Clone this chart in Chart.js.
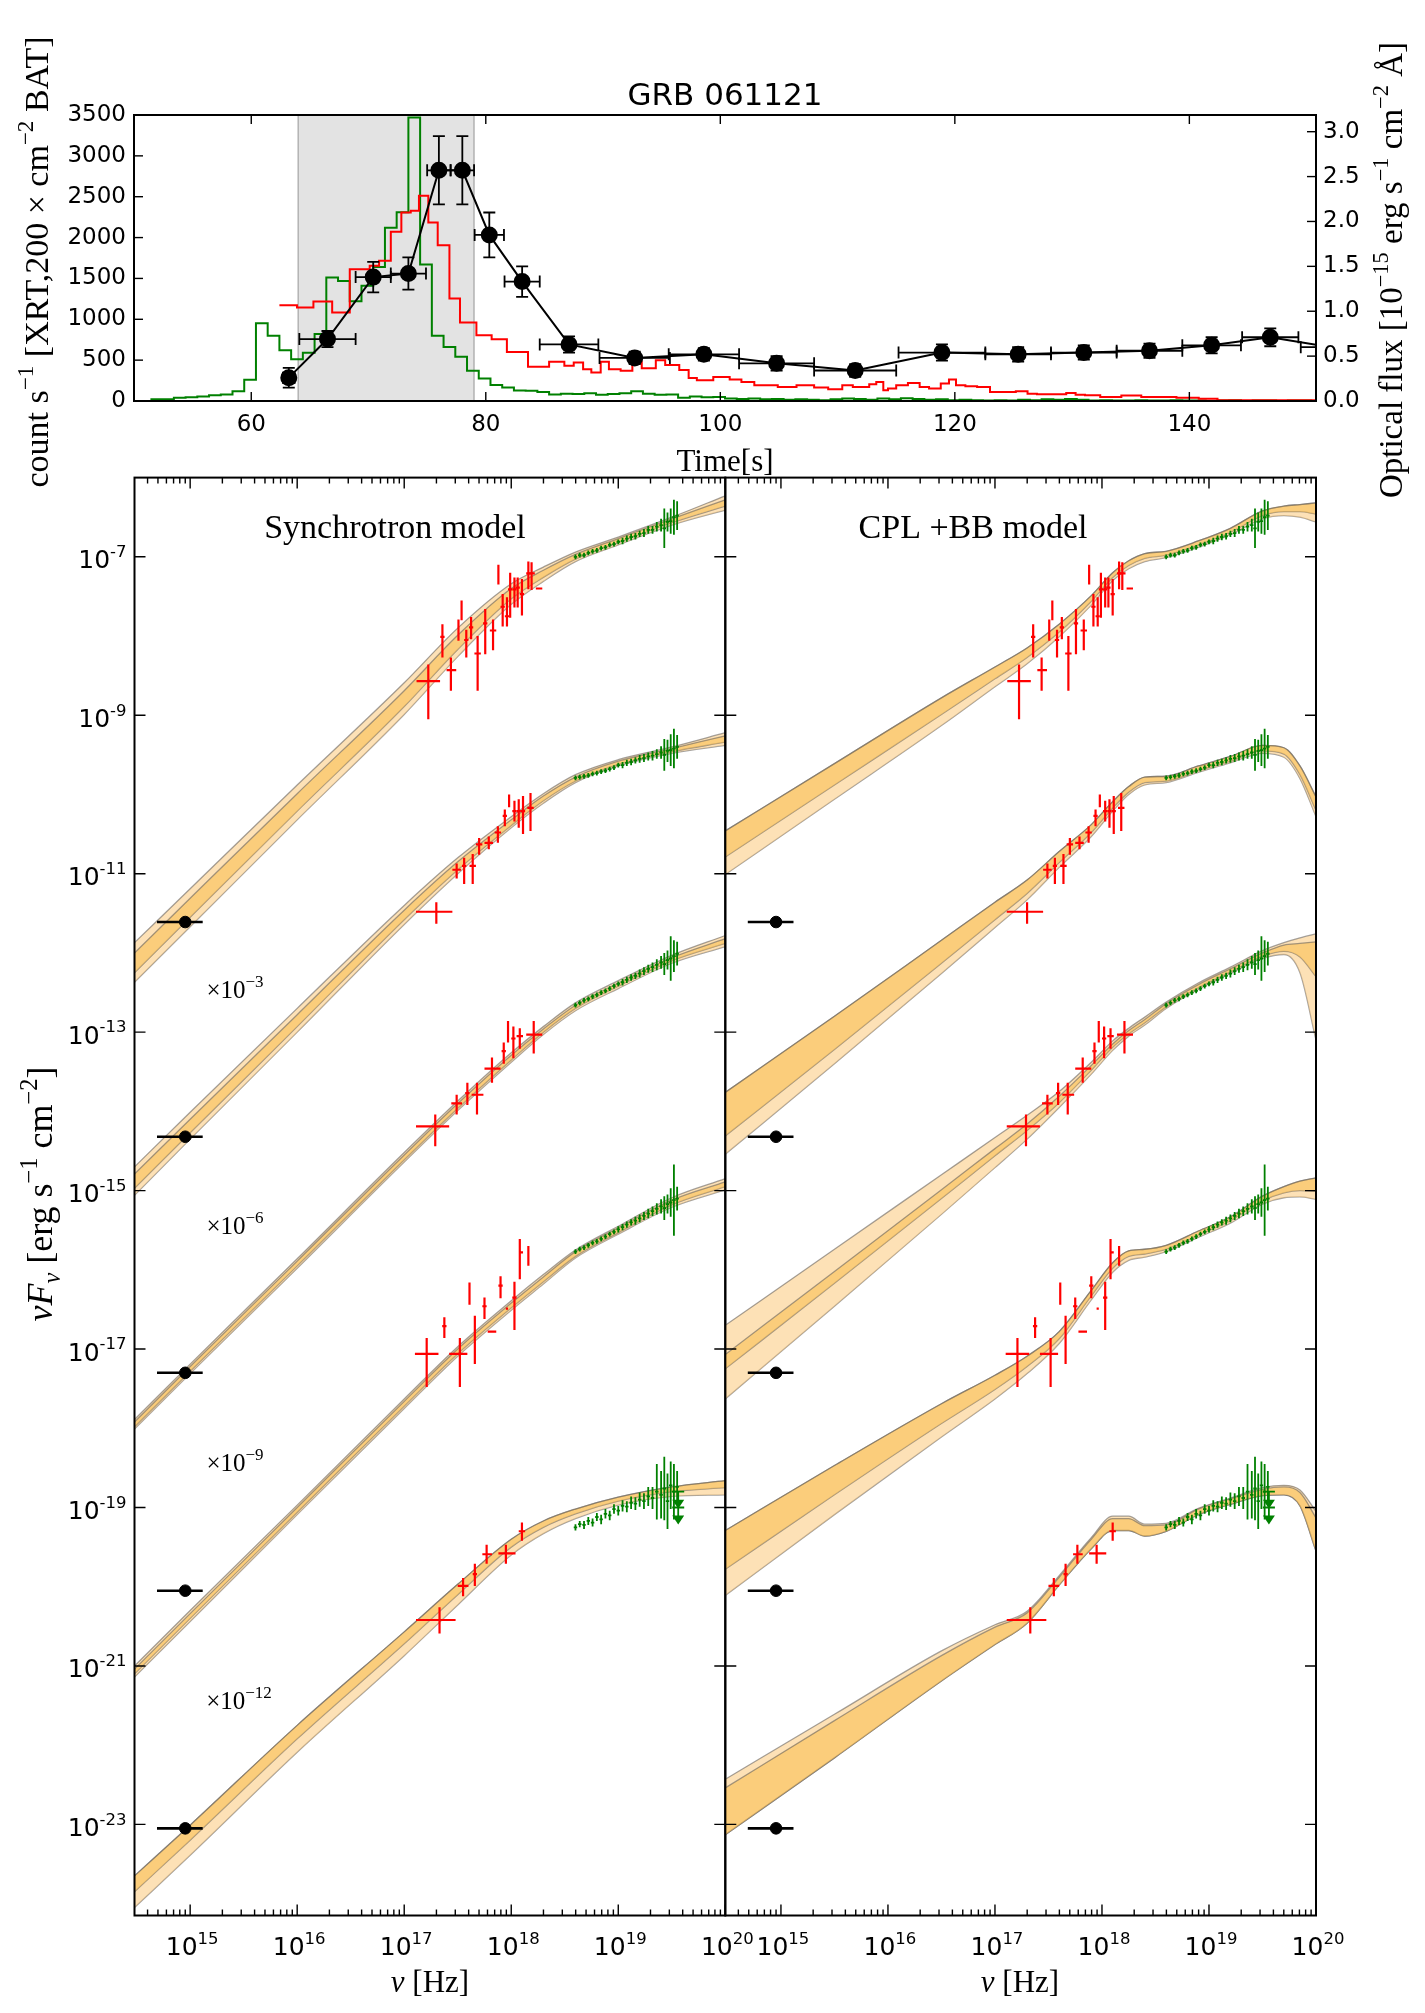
<!DOCTYPE html>
<html>
<head>
<meta charset="utf-8">
<title>GRB 061121</title>
<script src="https://cdn.jsdelivr.net/npm/chart.js@4.4.1/dist/chart.umd.min.js"></script>
<style>
  html, body { margin:0; padding:0; background:#ffffff; }
  #page { position:relative; width:1425px; height:2013px; overflow:hidden; background:#ffffff; }
  #page canvas { position:absolute; }
</style>
</head>
<body>
<div id="page">
  <canvas id="cTop" width="1425" height="560" style="left:0px;top:0px;"></canvas>
  <canvas id="cSync" width="800" height="1553" style="left:0px;top:460px;"></canvas>
  <canvas id="cCpl" width="800" height="1553" style="left:625px;top:460px;"></canvas>
</div>
<script>
// ======================= DATA : light-curve panel =======================
const topTimeTicks = [60, 80, 100, 120, 140];
const topCountTicks = [0, 500, 1000, 1500, 2000, 2500, 3000, 3500];
const topFluxTicks = [0, 0.5, 1.0, 1.5, 2.0, 2.5, 3.0];
const topFluxTickLabels = ['0.0', '0.5', '1.0', '1.5', '2.0', '2.5', '3.0'];
const shadeInterval = [64, 79];

// BAT count rate (green), 1-s bins
const batBinStart = 51.4, batBinWidth = 1.0;
const batCounts = [20,20,40,45,55,70,80,120,260,950, 800,620,510,590,820,1510,1470,1220,1410,1640,
  2120,2310,3470,1670,800,660,540,370,275,195, 165,130,125,110,80,90,85,95,75,85,
  95,120,90,75,80,40,55,45,50,30, 25,30,20,25,15,20,15,10,20,30,
  25,15,30,20,35,25,15,20,10,15, 10,5,10,5,15,10,20,15,25,15,
  5,10,5,5,10,5,5,10,5,5, 0,5,10,0,5,5,0,5,5,0];

// XRT count rate x200 (red), variable bins
const xrtBinStart = [62.4,63.9,65.3,66.9,68.4,70.1,70.9,71.9,72.8,73.6, 74.3,75.1,75.9,76.9,77.8,79.2,80.5,81.8,83.6,85.4,
  86.7,87.5,88.3,89.0,89.8,90.5,91.5,92.5,93.3,94.5, 95.3,96.5,97.3,98.0,99.4,100.8,101.8,102.9,104.9,106.5,
  108.0,109.2,110.4,111.3,112.7,113.3,113.9,114.3,115.0,116.0, 117.0,117.8,118.8,119.5,120.1,120.9,121.9,123.0,125.2,126.2,
  127.0,129.5,130.3,131.1,132.4,134.2,135.9,138.9,140.8,142.4];
const xrtCounts = [1172,1143,1217,1082,1613,1654,1715,2070,2307,2328, 2512,2185,1907,1254,960,805,756,600,420,480,
  430,470,390,350,480,390,370,480,400,500, 440,380,280,254,295,262,233,193,172,193,
  164,143,193,172,205,234,131,152,193,221, 172,152,213,262,193,180,172,111,119,90,
  82,98,78,70,49,66,49,41,29,8];
const xrtLastEdge = 151.0;

// Optical flux (black, right axis)
const optTime    = [63.2,66.5,70.4,73.4,76.0,78.0,80.3,83.1,87.1,92.7,98.6,104.8,111.5,118.9,125.4,131.0,136.6,141.9,146.9,152.0];
const optTimeErr = [0.5,2.4,1.5,1.5,1.0,1.0,1.25,1.5,2.5,3.0,3.0,3.2,3.5,3.7,2.8,2.8,2.8,2.5,2.4,2.5];
const optFlux    = [0.26,0.69,1.38,1.42,2.57,2.57,1.85,1.33,0.63,0.48,0.52,0.42,0.34,0.54,0.52,0.54,0.56,0.62,0.71,0.60];
const optFluxErr = [0.11,0.09,0.17,0.18,0.38,0.38,0.25,0.17,0.09,0.07,0.07,0.08,0.07,0.09,0.08,0.08,0.08,0.09,0.10,0.08];

// ======================= DATA : SED panels (log10 values) =======================
const sedXTickValues = [1e15, 1e16, 1e17, 1e18, 1e19, 1e20];
const sedXTickLabels = [['10','15'], ['10','16'], ['10','17'], ['10','18'], ['10','19'], ['10','20']];
const sedYTickValues = [1e-7, 1e-9, 1e-11, 1e-13, 1e-15, 1e-17, 1e-19, 1e-21, 1e-23];
const sedYTickLabels = [['10','-7'], ['10','-9'], ['10','-11'], ['10','-13'], ['10','-15'],
                        ['10','-17'], ['10','-19'], ['10','-21'], ['10','-23']];

// optical point (same frequency in every row)
const optSedNu = 9.0e14, optSedNuErr = 4.1e14;
const optSedLogF = [-11.61, -14.32, -17.30, -20.05, -23.05];

// XRT points: [log nu, -dlog nu, +dlog nu, log nuFnu, -dlog, +dlog]
const xrtRow0 = [[17.225,0.11,0.11,-8.57,0.48,0.21],[17.436,0.04,0.05,-8.43,0.26,0.16],[17.357,0.02,0.02,-8.01,0.26,0.16],
  [17.507,0.01,0.01,-7.89,0.17,0.10],[17.536,0.01,0.01,-7.68,0.12,0.13],[17.58,0.02,0.02,-8.05,0.22,0.13],
  [17.625,0.02,0.02,-7.89,0.15,0.13],[17.686,0.03,0.03,-8.22,0.47,0.22],[17.757,0.02,0.02,-7.84,0.39,0.18],
  [17.83,0.03,0.03,-7.93,0.25,0.14],[17.88,0.005,0.005,-7.20,0.15,0.10],[17.92,0.02,0.02,-7.63,0.25,0.16],
  [17.96,0.02,0.02,-7.75,0.13,0.24],[17.99,0.02,0.02,-7.41,0.36,0.21],[18.03,0.02,0.02,-7.41,0.23,0.15],
  [18.06,0.02,0.02,-7.39,0.25,0.13],[18.10,0.02,0.02,-7.47,0.27,0.19],[18.16,0.02,0.02,-7.21,0.20,0.15],
  [18.19,0.02,0.03,-7.21,0.21,0.14],[18.26,0.03,0.03,-7.40,0.01,0.01]];
const xrtRow1 = [[17.30,0.19,0.15,-11.48,0.15,0.12],[17.49,0.04,0.04,-10.95,0.11,0.08],[17.56,0.02,0.02,-10.90,0.23,0.10],
  [17.64,0.03,0.03,-10.90,0.23,0.15],[17.70,0.03,0.03,-10.63,0.13,0.08],[17.79,0.04,0.04,-10.61,0.08,0.08],
  [17.875,0.03,0.03,-10.48,0.13,0.08],[17.94,0.02,0.02,-10.27,0.13,0.08],[17.98,0.01,0.01,-10.08,0.08,0.08],
  [18.03,0.02,0.02,-10.21,0.13,0.13],[18.07,0.02,0.02,-10.21,0.21,0.15],[18.11,0.02,0.02,-10.21,0.29,0.19],
  [18.18,0.03,0.03,-10.17,0.29,0.19]];
const xrtRow2 = [[17.29,0.18,0.13,-14.19,0.25,0.15],[17.49,0.05,0.05,-13.90,0.14,0.11],[17.59,0.02,0.02,-13.77,0.15,0.13],
  [17.68,0.05,0.06,-13.79,0.25,0.15],[17.82,0.07,0.08,-13.46,0.18,0.14],[17.93,0.02,0.02,-13.24,0.16,0.11],
  [17.97,0.01,0.01,-12.97,0.16,0.11],[18.02,0.02,0.02,-13.08,0.25,0.15],[18.08,0.03,0.03,-13.05,0.16,0.10],
  [18.21,0.07,0.08,-13.03,0.24,0.17]];
const xrtRow3 = [[17.21,0.11,0.11,-17.06,0.42,0.20],[17.52,0.10,0.07,-17.06,0.42,0.20],[17.66,0.01,0.01,-16.78,0.41,0.20],
  [17.375,0.02,0.02,-16.71,0.15,0.11],[17.61,0.005,0.005,-16.28,0.16,0.12],[17.75,0.02,0.02,-16.46,0.16,0.11],
  [17.82,0.04,0.04,-16.78,0.01,0.01],[17.90,0.02,0.02,-16.20,0.16,0.12],[17.96,0.01,0.01,-16.49,0.01,0.01],
  [18.03,0.02,0.02,-16.35,0.41,0.20],[18.08,0.00,0.03,-15.78,0.34,0.17],[18.16,0.01,0.01,-15.80,0.15,0.10]];
const xrtRow4 = [[17.33,0.22,0.15,-20.42,0.17,0.16],[17.55,0.05,0.05,-19.99,0.13,0.10],[17.66,0.02,0.02,-19.84,0.15,0.13],
  [17.77,0.04,0.05,-19.59,0.12,0.12],[17.95,0.07,0.09,-19.58,0.13,0.11],[18.10,0.03,0.03,-19.30,0.12,0.11]];

// BAT points (log nu shared), log nuFnu and error per row
const batNu = [18.60,18.64,18.68,18.72,18.76,18.80,18.84,18.88,18.92,18.96,19.00,19.04,19.08,19.12,19.16,19.20,19.24,19.28,19.32,19.36,19.40,19.43,19.46,19.49,19.52,19.55];
const batF0 = [-7.00,-6.98,-6.98,-6.95,-6.93,-6.92,-6.89,-6.88,-6.85,-6.84,-6.81,-6.80,-6.77,-6.75,-6.74,-6.71,-6.70,-6.66,-6.66,-6.62,-6.60,-6.64,-6.56,-6.55,-6.50,-6.48];
const batE0 = [0.03,0.03,0.03,0.03,0.03,0.03,0.03,0.03,0.03,0.03,0.03,0.04,0.04,0.04,0.04,0.04,0.05,0.05,0.05,0.06,0.08,0.25,0.12,0.16,0.22,0.18];
const batF1 = [-9.79,-9.78,-9.77,-9.76,-9.74,-9.73,-9.71,-9.70,-9.68,-9.66,-9.63,-9.63,-9.60,-9.59,-9.57,-9.55,-9.54,-9.52,-9.51,-9.49,-9.47,-9.50,-9.45,-9.44,-9.42,-9.40];
const batE1 = [0.03,0.03,0.03,0.03,0.03,0.03,0.03,0.03,0.03,0.03,0.03,0.04,0.04,0.04,0.04,0.05,0.05,0.05,0.06,0.06,0.08,0.20,0.14,0.20,0.25,0.15];
const batF2 = [-12.66,-12.63,-12.60,-12.58,-12.55,-12.53,-12.50,-12.48,-12.45,-12.42,-12.39,-12.37,-12.34,-12.31,-12.29,-12.26,-12.23,-12.20,-12.18,-12.15,-12.12,-12.14,-12.09,-12.07,-12.04,-12.01];
const batE2 = [0.03,0.03,0.03,0.03,0.03,0.03,0.03,0.03,0.03,0.03,0.03,0.04,0.04,0.04,0.04,0.05,0.05,0.05,0.06,0.07,0.08,0.14,0.12,0.28,0.20,0.15];
const batF3 = [-15.77,-15.74,-15.72,-15.69,-15.66,-15.64,-15.61,-15.58,-15.55,-15.52,-15.49,-15.46,-15.43,-15.40,-15.38,-15.35,-15.32,-15.29,-15.26,-15.23,-15.20,-15.22,-15.17,-15.15,-15.12,-15.10];
const batE3 = [0.03,0.03,0.03,0.03,0.03,0.03,0.03,0.03,0.03,0.03,0.04,0.04,0.04,0.04,0.05,0.05,0.05,0.06,0.06,0.07,0.09,0.15,0.12,0.18,0.45,0.15];
const batF4 = [-19.25,-19.21,-19.22,-19.17,-19.19,-19.12,-19.15,-19.08,-19.10,-19.02,-19.04,-18.98,-18.99,-18.94,-18.95,-18.90,-18.92,-18.86,-18.88,-18.80,-18.84,-18.76,-18.92,-18.72,-18.80,-18.74];
const batE4 = [0.04,0.04,0.05,0.05,0.05,0.05,0.06,0.06,0.06,0.06,0.06,0.07,0.07,0.08,0.08,0.09,0.10,0.12,0.14,0.35,0.30,0.40,0.35,0.30,0.35,0.20];
const batUpperLimits4 = [[19.56, -18.80], [19.56, -19.00]];

// Synchrotron model bands (outer band A, inner band B)
const syncNu = [14.48, 15.0, 16.0, 17.0, 17.5, 18.0, 18.3, 18.6, 19.0, 19.5, 20.0];
const sync0Hi   = [-11.87,-11.19,-9.88,-8.59,-7.90,-7.34,-7.13,-6.94,-6.75,-6.50,-6.23];
const sync0Lo   = [-12.37,-11.67,-10.32,-8.99,-8.26,-7.60,-7.31,-7.06,-6.85,-6.60,-6.41];
const sync0InHi = [-12.00,-11.31,-9.99,-8.69,-7.99,-7.40,-7.17,-6.97,-6.77,-6.52,-6.28];
const sync0InLo = [-12.25,-11.55,-10.21,-8.89,-8.17,-7.53,-7.26,-7.03,-6.82,-6.57,-6.36];
const sync1Hi   = [-14.70,-14.01,-12.70,-11.40,-10.80,-10.28,-9.99,-9.75,-9.56,-9.40,-9.22];
const sync1Lo   = [-15.06,-14.35,-13.00,-11.64,-11.00,-10.42,-10.11,-9.85,-9.64,-9.48,-9.38];
const sync1InHi = [-14.79,-14.10,-12.78,-11.46,-10.85,-10.32,-10.02,-9.78,-9.58,-9.42,-9.26];
const sync1InLo = [-14.97,-14.27,-12.93,-11.58,-10.95,-10.39,-10.08,-9.83,-9.62,-9.46,-9.34];
const sync2Hi   = [-17.89,-17.19,-15.86,-14.52,-13.87,-13.26,-12.93,-12.63,-12.35,-12.03,-11.78];
const sync2Lo   = [-18.01,-17.31,-15.98,-14.64,-13.99,-13.38,-13.03,-12.73,-12.45,-12.13,-11.92];
const sync2InHi = [-17.92,-17.22,-15.89,-14.55,-13.90,-13.29,-12.96,-12.66,-12.38,-12.06,-11.82];
const sync2InLo = [-17.98,-17.28,-15.95,-14.61,-13.96,-13.35,-13.00,-12.70,-12.42,-12.10,-11.88];
const sync3Hi   = [-21.00,-20.30,-18.97,-17.63,-16.97,-16.39,-16.06,-15.75,-15.45,-15.09,-14.85];
const sync3Lo   = [-21.14,-20.44,-19.09,-17.75,-17.09,-16.51,-16.18,-15.85,-15.55,-15.21,-14.99];
const sync3InHi = [-21.04,-20.34,-19.00,-17.66,-17.00,-16.42,-16.09,-15.77,-15.47,-15.12,-14.89];
const sync3InLo = [-21.10,-20.40,-19.06,-17.72,-17.06,-16.48,-16.15,-15.83,-15.53,-15.18,-14.95];
const sync4Hi   = [-23.65,-23.01,-21.75,-20.57,-19.97,-19.40,-19.17,-19.02,-18.87,-18.74,-18.66];
const sync4Lo   = [-24.05,-23.39,-22.09,-20.87,-20.23,-19.60,-19.33,-19.14,-18.97,-18.86,-18.84];
const sync4InHi = [-23.65,-23.01,-21.75,-20.57,-19.97,-19.40,-19.17,-19.02,-18.87,-18.74,-18.66];
const sync4InLo = [-23.85,-23.20,-21.92,-20.72,-20.10,-19.50,-19.25,-19.08,-18.92,-18.80,-18.75];

// CPL+BB model bands
const cplNu = [14.48, 15.5, 16.5, 17.0, 17.3, 17.6, 17.9, 18.1, 18.25, 18.4, 18.6, 18.9, 19.2, 19.5, 19.7, 19.85, 20.0];
const cpl0Hi   = [-10.46,-9.61,-8.78,-8.39,-8.15,-7.85,-7.49,-7.20,-7.05,-6.96,-6.93,-6.80,-6.64,-6.42,-6.36,-6.34,-6.32];
const cpl0Lo   = [-11.01,-10.06,-9.13,-8.64,-8.35,-8.01,-7.61,-7.30,-7.15,-7.06,-7.01,-6.88,-6.72,-6.52,-6.48,-6.50,-6.56];
const cpl0InHi = [-10.46,-9.61,-8.78,-8.39,-8.15,-7.85,-7.49,-7.20,-7.05,-6.96,-6.93,-6.80,-6.64,-6.42,-6.36,-6.34,-6.32];
const cpl0InLo = [-10.79,-9.88,-8.99,-8.54,-8.27,-7.95,-7.56,-7.26,-7.11,-7.02,-6.98,-6.85,-6.69,-6.48,-6.43,-6.43,-6.46];
const cpl1Hi   = [-13.76,-12.80,-11.84,-11.36,-11.08,-10.72,-10.38,-10.09,-9.90,-9.78,-9.77,-9.64,-9.52,-9.38,-9.41,-9.64,-10.03];
const cpl1Lo   = [-14.54,-13.40,-12.26,-11.68,-11.33,-10.92,-10.53,-10.21,-10.00,-9.88,-9.85,-9.72,-9.60,-9.48,-9.53,-9.80,-10.28];
const cpl1InHi = [-13.76,-12.80,-11.84,-11.36,-11.08,-10.72,-10.38,-10.09,-9.90,-9.78,-9.77,-9.64,-9.52,-9.38,-9.41,-9.64,-10.03];
const cpl1InLo = [-14.31,-13.22,-12.13,-11.58,-11.25,-10.86,-10.48,-10.17,-9.97,-9.85,-9.83,-9.70,-9.58,-9.45,-9.49,-9.75,-10.20];
const cpl2Hi   = [-16.70,-15.74,-14.80,-14.33,-14.05,-13.75,-13.38,-13.11,-12.95,-12.81,-12.62,-12.38,-12.18,-11.97,-11.87,-11.81,-11.76];
const cpl2Lo   = [-17.63,-16.46,-15.30,-14.71,-14.35,-13.95,-13.53,-13.23,-13.05,-12.91,-12.70,-12.46,-12.26,-12.07,-12.02,-12.25,-13.10];
const cpl2InHi = [-17.07,-16.02,-14.99,-14.47,-14.16,-13.81,-13.42,-13.15,-12.98,-12.84,-12.64,-12.40,-12.20,-12.00,-11.90,-11.88,-11.86];
const cpl2InLo = [-17.25,-16.17,-15.10,-14.56,-14.24,-13.89,-13.48,-13.19,-13.02,-12.88,-12.68,-12.44,-12.24,-12.04,-11.98,-12.05,-12.30];
const cpl3Hi   = [-19.29,-18.47,-17.69,-17.33,-17.09,-16.78,-16.26,-15.91,-15.76,-15.74,-15.69,-15.51,-15.33,-15.07,-14.95,-14.88,-14.84];
const cpl3Lo   = [-20.11,-19.09,-18.11,-17.63,-17.31,-16.93,-16.38,-16.03,-15.88,-15.84,-15.77,-15.59,-15.41,-15.17,-15.09,-15.08,-15.11];
const cpl3InHi = [-19.29,-18.47,-17.69,-17.33,-17.09,-16.78,-16.26,-15.91,-15.76,-15.74,-15.69,-15.51,-15.33,-15.07,-14.95,-14.88,-14.84];
const cpl3InLo = [-19.78,-18.84,-17.94,-17.51,-17.22,-16.87,-16.33,-15.98,-15.83,-15.80,-15.74,-15.56,-15.38,-15.13,-15.03,-15.00,-15.01];
const cpl4Hi   = [-22.43,-21.61,-20.81,-20.48,-20.31,-19.86,-19.38,-19.11,-19.11,-19.21,-19.20,-19.01,-18.88,-18.75,-18.72,-18.78,-19.05];
const cpl4Lo   = [-23.13,-22.16,-21.19,-20.73,-20.46,-19.98,-19.52,-19.29,-19.29,-19.36,-19.30,-19.09,-18.96,-18.85,-18.84,-18.98,-19.55];
const cpl4InHi = [-22.54,-21.69,-20.87,-20.51,-20.33,-19.88,-19.40,-19.14,-19.14,-19.23,-19.22,-19.02,-18.89,-18.77,-18.74,-18.81,-19.13];
const cpl4InLo = [-23.13,-22.16,-21.19,-20.73,-20.46,-19.98,-19.52,-19.29,-19.29,-19.36,-19.30,-19.09,-18.96,-18.85,-18.84,-18.98,-19.55];

// ======================= STYLE =======================
const SANS = '"DejaVu Sans", "Liberation Sans", sans-serif';
const SERIF = '"Liberation Serif", "DejaVu Serif", serif';
const BAND_A = 'rgba(252,196,110,0.50)';
const BAND_B = 'rgba(250,190,80,0.57)';
const EDGE = 'rgba(105,100,95,0.60)';
Chart.defaults.font.family = SANS;
Chart.defaults.color = '#000';
Chart.defaults.animation = false;

const P10 = v => Math.pow(10, v);

function drawRich(ctx, tx) {
  const size = tx.size, sm = size * (tx.supScale || 0.68);
  ctx.save();
  ctx.translate(tx.x, tx.y);
  if (tx.rot) ctx.rotate(tx.rot);
  ctx.fillStyle = '#000';
  ctx.textBaseline = 'alphabetic';
  ctx.textAlign = 'left';
  const fontOf = p => `${p[2] ? 'italic ' : ''}${p[1] ? sm : size}px ${tx.family}`;
  const ws = [];
  let w = 0;
  tx.parts.forEach(p => { ctx.font = fontOf(p); const m = ctx.measureText(p[0]).width; ws.push(m); w += m; });
  let cx = tx.align === 'right' ? -w : -w / 2;
  const base = size * 0.34;
  tx.parts.forEach((p, i) => {
    ctx.font = fontOf(p);
    const dy = p[1] === 1 ? -size * (tx.supRise || 0.42) : (p[1] === -1 ? size * 0.22 : 0);
    ctx.fillText(p[0], cx, base + dy);
    cx += ws[i];
  });
  ctx.restore();
}

const framePlugin = {
  id: 'frame',
  afterDraw(chart, args, opts) {
    const ctx = chart.ctx, a = chart.chartArea;
    ctx.save();
    ctx.strokeStyle = '#000';
    ctx.lineWidth = 1.4;
    (opts.marks || []).forEach(m => {
      const s = chart.scales[m.scale];
      s.ticks.forEach(t => {
        const len = t.mj === false ? m.minor : m.major;
        const p = s.getPixelForValue(t.value);
        ctx.beginPath();
        m.sides.forEach(side => {
          if (side === 'bottom') { ctx.moveTo(p, a.bottom); ctx.lineTo(p, a.bottom - len); }
          if (side === 'top') { ctx.moveTo(p, a.top); ctx.lineTo(p, a.top + len); }
          if (side === 'left') { ctx.moveTo(a.left, p); ctx.lineTo(a.left + len, p); }
          if (side === 'right') { ctx.moveTo(a.right, p); ctx.lineTo(a.right - len, p); }
        });
        ctx.stroke();
      });
    });
    ctx.lineWidth = 2;
    ctx.strokeRect(a.left, a.top, a.right - a.left, a.bottom - a.top);
    ctx.restore();
    (opts.labels || []).forEach(L => {
      const s = chart.scales[L.scale];
      L.values.forEach((v, i) => {
        const p = s.getPixelForValue(v);
        const tx = { parts: [[L.texts[i][0], 0], [L.texts[i][1], 1]], size: L.size, family: L.family,
                     supScale: 0.66, supRise: 0.45 };
        if (L.side === 'bottom') { tx.x = p + L.dx; tx.y = a.bottom + L.offset; }
        else { tx.x = a.left - L.offset; tx.y = p + L.dy; tx.align = 'right'; }
        drawRich(ctx, tx);
      });
    });
    (opts.texts || []).forEach(tx => drawRich(ctx, tx));
  }
};

const errorBarPlugin = {
  id: 'errbars',
  afterDatasetDraw(chart, args) {
    const ds = chart.data.datasets[args.index];
    if (!ds.errorBars && !ds.arrowDown) return;
    const meta = args.meta;
    const xs = chart.scales[meta.xAxisID], ys = chart.scales[meta.yAxisID];
    const ctx = chart.ctx, a = chart.chartArea;
    ctx.save();
    ctx.beginPath();
    ctx.rect(a.left, a.top, a.right - a.left, a.bottom - a.top);
    ctx.clip();
    ctx.strokeStyle = ds.errColor;
    ctx.fillStyle = ds.errColor;
    ctx.lineWidth = ds.errWidth;
    ds.data.forEach((p, i) => {
      const px = xs.getPixelForValue(p.x), py = ys.getPixelForValue(p.y);
      if (ds.errorBars) {
        const e = ds.errorBars[i];
        const x0 = xs.getPixelForValue(e.xMin), x1 = xs.getPixelForValue(e.xMax);
        const y0 = ys.getPixelForValue(e.yMin), y1 = ys.getPixelForValue(e.yMax);
        ctx.beginPath();
        ctx.moveTo(x0, py); ctx.lineTo(x1, py);
        ctx.moveTo(px, y0); ctx.lineTo(px, y1);
        if (ds.errCap) {
          const c = ds.errCap;
          ctx.moveTo(x0, py - c); ctx.lineTo(x0, py + c);
          ctx.moveTo(x1, py - c); ctx.lineTo(x1, py + c);
          ctx.moveTo(px - c, y0); ctx.lineTo(px + c, y0);
          ctx.moveTo(px - c, y1); ctx.lineTo(px + c, y1);
        }
        ctx.stroke();
      }
      if (ds.arrowDown) {
        const L = ds.arrowDown;
        ctx.beginPath();
        ctx.moveTo(px - 6, py); ctx.lineTo(px + 6, py);
        ctx.moveTo(px, py); ctx.lineTo(px, py + L);
        ctx.stroke();
        ctx.beginPath();
        ctx.moveTo(px - 6, py + L - 6); ctx.lineTo(px + 6, py + L - 6); ctx.lineTo(px, py + L + 3); ctx.closePath();
        ctx.fill();
      }
    });
    ctx.restore();
  }
};

// ======================= TOP PANEL =======================
function stepPoints(starts, values, lastEdge) {
  const pts = starts.map((s, i) => ({ x: s, y: values[i] }));
  pts.push({ x: lastEdge, y: values[values.length - 1] });
  return pts;
}
const batStarts = batCounts.map((_, i) => batBinStart + i * batBinWidth);

new Chart(document.getElementById('cTop'), {
  type: 'line',
  data: {
    datasets: [
      { data: [{ x: shadeInterval[0], y: 0 }, { x: shadeInterval[0], y: 3500 }, { x: shadeInterval[1], y: 3500 }, { x: shadeInterval[1], y: 0 }],
        yAxisID: 'y', fill: 'origin', backgroundColor: 'rgba(128,128,128,0.22)', borderColor: 'rgba(128,128,128,0.55)',
        borderWidth: 1.5, pointRadius: 0, order: 50 },
      { data: stepPoints(batStarts, batCounts, batBinStart + batCounts.length * batBinWidth), yAxisID: 'y', stepped: 'before',
        borderColor: '#008000', borderWidth: 2, pointRadius: 0, fill: false, order: 40 },
      { data: stepPoints(xrtBinStart, xrtCounts, xrtLastEdge), yAxisID: 'y', stepped: 'before',
        borderColor: '#ff0000', borderWidth: 2, pointRadius: 0, fill: false, order: 30 },
      { data: optTime.map((t, i) => ({ x: t, y: optFlux[i] })), yAxisID: 'y2',
        borderColor: '#000', borderWidth: 2, pointRadius: 7.5, pointBackgroundColor: '#000', pointBorderColor: '#000',
        fill: false, order: 0, errColor: '#000', errWidth: 1.8, errCap: 6,
        errorBars: optTime.map((t, i) => ({ xMin: t - optTimeErr[i], xMax: t + optTimeErr[i], yMin: optFlux[i] - optFluxErr[i], yMax: optFlux[i] + optFluxErr[i] })) }
    ]
  },
  options: {
    responsive: false, animation: false, events: [],
    layout: { padding: { top: 115, left: 0, right: 0, bottom: 0 } },
    plugins: {
      legend: { display: false }, tooltip: { enabled: false },
      frame: {
        marks: [ { scale: 'x', sides: ['bottom', 'top'], major: 9, minor: 5 },
                 { scale: 'y', sides: ['left'], major: 9, minor: 5 },
                 { scale: 'y2', sides: ['right'], major: 9, minor: 5 } ],
        texts: [
          { parts: [['GRB 061121', 0]], x: 725, y: 94, size: 31, family: SANS },
          { parts: [['Time[s]', 0]], x: 725, y: 460, size: 31, family: SERIF },
          { parts: [['count s', 0], ['\u22121', 1], [' [XRT,200 \u00d7 cm', 0], ['\u22122', 1], [' BAT]', 0]], x: 36, y: 262, size: 34, family: SERIF, rot: -Math.PI / 2 },
          { parts: [['Optical flux [10', 0], ['\u221215', 1], [' erg s', 0], ['\u22121', 1], [' cm', 0], ['\u22122', 1], [' \u00c5]', 0]], x: 1391, y: 270, size: 33, family: SERIF, rot: -Math.PI / 2 }
        ]
      }
    },
    scales: {
      x: { type: 'linear', min: 50, max: 150.8, bounds: 'data',
        grid: { display: false, drawTicks: false }, border: { display: false },
        afterBuildTicks: s => { s.ticks = topTimeTicks.map(v => ({ value: v })); },
        afterFit: s => { s.height = 159; },
        ticks: { font: { size: 23 }, padding: 10, autoSkip: false, maxRotation: 0, callback: v => String(v) } },
      y: { type: 'linear', position: 'left', min: 0, max: 3500, bounds: 'data',
        grid: { display: false, drawTicks: false }, border: { display: false },
        afterBuildTicks: s => { s.ticks = topCountTicks.map(v => ({ value: v })); },
        afterFit: s => { s.width = 134; },
        ticks: { font: { size: 23 }, padding: 8, autoSkip: false, callback: v => String(v) } },
      y2: { type: 'linear', position: 'right', min: 0, max: 3.186, bounds: 'data',
        grid: { display: false, drawTicks: false }, border: { display: false },
        afterBuildTicks: s => { s.ticks = topFluxTicks.map(v => ({ value: v })); },
        afterFit: s => { s.width = 109; },
        ticks: { font: { size: 23 }, padding: 7, autoSkip: false,
          callback: v => { const j = topFluxTicks.findIndex(t => Math.abs(t - v) < 1e-9); return j >= 0 ? topFluxTickLabels[j] : ''; } } }
    }
  },
  plugins: [framePlugin, errorBarPlugin]
});

// ======================= SED PANELS =======================
function bandLine(nu, vals, extra) {
  return Object.assign({
    type: 'line', data: nu.map((n, i) => ({ x: P10(n), y: P10(vals[i]) })),
    borderColor: EDGE, borderWidth: 1.3, pointRadius: 0, fill: false,
    cubicInterpolationMode: 'monotone'
  }, extra);
}
function bandSets(nu, hiA, loA, hiB, loB) {
  return [
    bandLine(nu, hiA, { fill: '+1', backgroundColor: BAND_A, order: 30 }),
    bandLine(nu, loA, { order: 30 }),
    bandLine(nu, hiB, { fill: '+1', backgroundColor: BAND_B, order: 20 }),
    bandLine(nu, loB, { order: 20 })
  ];
}
function pointSets() {
  const xrtAll = [xrtRow0, xrtRow1, xrtRow2, xrtRow3, xrtRow4].flat();
  const batRows = [[batF0, batE0], [batF1, batE1], [batF2, batE2], [batF3, batE3], [batF4, batE4]];
  const batData = [], batErr = [];
  batRows.forEach(([F, E]) => batNu.forEach((n, i) => {
    batData.push({ x: P10(n), y: P10(F[i]) });
    batErr.push({ xMin: P10(n - 0.016), xMax: P10(n + 0.016), yMin: P10(F[i] - E[i]), yMax: P10(F[i] + E[i]) });
  }));
  return [
    { type: 'line', showLine: false, pointRadius: 0, order: 3, data: batData, errorBars: batErr, errColor: '#008000', errWidth: 1.8 },
    { type: 'line', showLine: false, pointRadius: 0, order: 3, data: batUpperLimits4.map(u => ({ x: P10(u[0]), y: P10(u[1]) })),
      arrowDown: 14, errColor: '#008000', errWidth: 1.8 },
    { type: 'line', showLine: false, pointRadius: 0, order: 2,
      data: xrtAll.map(r => ({ x: P10(r[0]), y: P10(r[3]) })),
      errorBars: xrtAll.map(r => ({ xMin: P10(r[0] - r[1]), xMax: P10(r[0] + r[2]), yMin: P10(r[3] - r[4]), yMax: P10(r[3] + r[5]) })),
      errColor: '#ff0000', errWidth: 2.2 },
    { type: 'line', showLine: false, pointRadius: 5.8, pointBackgroundColor: '#000', pointBorderColor: '#000', order: 1,
      data: optSedLogF.map(f => ({ x: optSedNu, y: P10(f) })),
      errorBars: optSedLogF.map(f => ({ xMin: optSedNu - optSedNuErr, xMax: optSedNu + optSedNuErr, yMin: P10(f), yMax: P10(f) })),
      errColor: '#000', errWidth: 2.6 }
  ];
}
function sedChart(id, bandDatasets, yWidth, padRight, showYLabels, texts) {
  const labels = [{ scale: 'x', side: 'bottom', values: sedXTickValues, texts: sedXTickLabels, size: 25, family: SANS, offset: 31, dx: 2 }];
  if (showYLabels) labels.push({ scale: 'y', side: 'left', values: sedYTickValues, texts: sedYTickLabels, size: 25, family: SANS, offset: 8, dy: 3 });
  return new Chart(document.getElementById(id), {
    type: 'line',
    data: { datasets: bandDatasets.concat(pointSets()) },
    options: {
      responsive: false, animation: false, events: [],
      layout: { padding: { top: 17.6, left: 0, right: padRight, bottom: 0 } },
      plugins: {
        legend: { display: false }, tooltip: { enabled: false },
        frame: {
          marks: [ { scale: 'x', sides: ['bottom', 'top'], major: 11, minor: 6 },
                   { scale: 'y', sides: ['left', 'right'], major: 11, minor: 6 } ],
          labels: labels,
          texts: texts
        }
      },
      scales: {
        x: { type: 'logarithmic', min: P10(14.48), max: 1e20, bounds: 'data',
          grid: { display: false, drawTicks: false }, border: { display: false },
          afterBuildTicks: s => {
            const t = [];
            for (let e = 14; e <= 19; e++) for (let k = 1; k <= 9; k++) {
              const v = k * Math.pow(10, e);
              if (v >= s.min * 0.999 && v <= s.max * 1.001) t.push({ value: v, mj: k === 1 });
            }
            t.push({ value: 1e20, mj: true });
            s.ticks = t;
          },
          afterFit: s => { s.height = 97.5; },
          ticks: { display: false, autoSkip: false } },
        y: { type: 'logarithmic', position: 'left', min: P10(-24.15), max: 1e-6, bounds: 'data',
          grid: { display: false, drawTicks: false }, border: { display: false },
          afterBuildTicks: s => { s.ticks = sedYTickValues.map(v => ({ value: v, mj: true })); },
          afterFit: s => { s.width = yWidth; },
          ticks: { display: false, autoSkip: false } }
      }
    },
    plugins: [framePlugin, errorBarPlugin]
  });
}

const syncBands = [].concat(
  bandSets(syncNu, sync0Hi, sync0Lo, sync0InHi, sync0InLo),
  bandSets(syncNu, sync1Hi, sync1Lo, sync1InHi, sync1InLo),
  bandSets(syncNu, sync2Hi, sync2Lo, sync2InHi, sync2InLo),
  bandSets(syncNu, sync3Hi, sync3Lo, sync3InHi, sync3InLo),
  bandSets(syncNu, sync4Hi, sync4Lo, sync4InHi, sync4InLo));
const cplBands = [].concat(
  bandSets(cplNu, cpl0Hi, cpl0Lo, cpl0InHi, cpl0InLo),
  bandSets(cplNu, cpl1Hi, cpl1Lo, cpl1InHi, cpl1InLo),
  bandSets(cplNu, cpl2Hi, cpl2Lo, cpl2InHi, cpl2InLo),
  bandSets(cplNu, cpl3Hi, cpl3Lo, cpl3InHi, cpl3InLo),
  bandSets(cplNu, cpl4Hi, cpl4Lo, cpl4InHi, cpl4InLo));

const SED_TOP = 460, CPL_LEFT = 625;
sedChart('cSync', syncBands, 134.5, 74.7, true, [
  { parts: [['Synchrotron model', 0]], x: 395, y: 526 - SED_TOP, size: 34, family: SERIF },
  { parts: [['\u00d710', 0], ['\u22123', 1]], x: 235, y: 989 - SED_TOP, size: 25, family: SERIF },
  { parts: [['\u00d710', 0], ['\u22126', 1]], x: 235, y: 1225 - SED_TOP, size: 25, family: SERIF },
  { parts: [['\u00d710', 0], ['\u22129', 1]], x: 235, y: 1462 - SED_TOP, size: 25, family: SERIF },
  { parts: [['\u00d710', 0], ['\u221212', 1]], x: 239, y: 1700 - SED_TOP, size: 25, family: SERIF },
  { parts: [['\u03bd', 0, true], ['F', 0, true], ['\u03bd', -1, true], [' [erg s', 0], ['\u22121', 1], [' cm', 0], ['\u22122', 1], [']', 0]],
    x: 40, y: 1194 - SED_TOP, size: 36, family: SERIF, rot: -Math.PI / 2 },
  { parts: [['\u03bd', 0, true], [' [Hz]', 0]], x: 430, y: 1981 - SED_TOP, size: 31, family: SERIF }
]);
sedChart('cCpl', cplBands, 725.3 - CPL_LEFT, 109, false, [
  { parts: [['CPL +BB model', 0]], x: 973 - CPL_LEFT, y: 526 - SED_TOP, size: 34, family: SERIF },
  { parts: [['\u03bd', 0, true], [' [Hz]', 0]], x: 1020 - CPL_LEFT, y: 1981 - SED_TOP, size: 31, family: SERIF }
]);
</script>
</body>
</html>
